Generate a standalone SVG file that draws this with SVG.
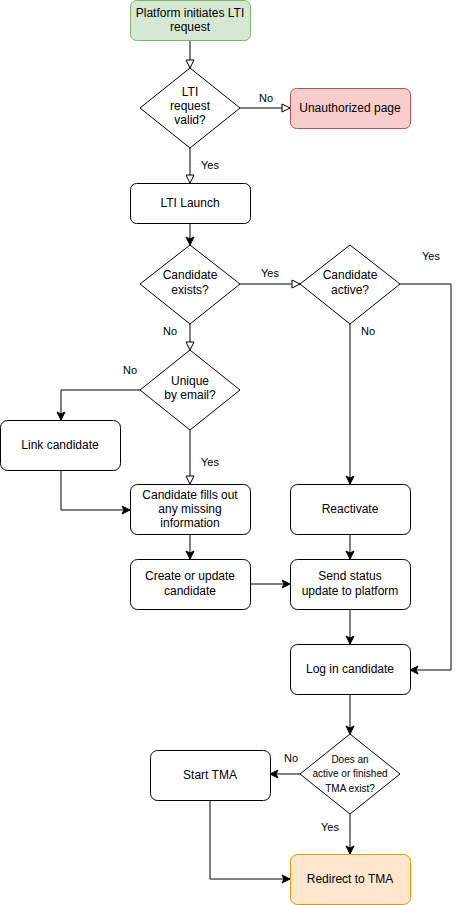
<svg xmlns="http://www.w3.org/2000/svg" width="459" height="905" viewBox="0 0 459 905">
<defs>
<style>
.n{fill:#fff;stroke:#000;stroke-width:1}
.t{font-family:"Liberation Sans",Arial,sans-serif;font-size:12px;fill:#000;text-anchor:middle}
.s{font-size:10px}
.l{font-family:"Liberation Sans",Arial,sans-serif;font-size:11px;fill:#000;text-anchor:middle}
.e{fill:none;stroke:#000;stroke-width:1}
.o{marker-end:url(#open)}
.c{marker-end:url(#cls)}
</style>
<marker id="open" viewBox="0 0 10 10" refX="9" refY="5" markerWidth="10" markerHeight="10" markerUnits="userSpaceOnUse" orient="auto">
<path d="M1,1 L9,5 L1,9 Z" fill="#fff" stroke="#000" stroke-width="1"/>
</marker>
<marker id="cls" viewBox="0 0 10 10" refX="9" refY="5" markerWidth="10" markerHeight="10" markerUnits="userSpaceOnUse" orient="auto">
<path d="M1,1 L9,5 L1,9 L3,5 Z" fill="#000" stroke="#000" stroke-width="1"/>
</marker>
</defs>
<rect width="459" height="905" fill="#fff"/>
<g id="connectors">
<path class="e o" d="M190,40 V68"/>
<path class="e o" d="M240,108 H290"/>
<path class="e o" d="M190,148 V183"/>
<path class="e c" d="M190,223 V245"/>
<path class="e o" d="M240,284 H300"/>
<path class="e o" d="M190,324 V350"/>
<path class="e c" d="M400,284 H451 V670 H410"/>
<path class="e c" d="M350,324 V484"/>
<path class="e c" d="M140,390 H61 V420"/>
<path class="e o" d="M190,430 V484"/>
<path class="e c" d="M61,470 V510 H130"/>
<path class="e c" d="M190,534 V559"/>
<path class="e c" d="M350,534 V559"/>
<path class="e c" d="M250,584 H290"/>
<path class="e c" d="M350,609 V644"/>
<path class="e c" d="M350,694 V734"/>
<path class="e c" d="M300,774 H270"/>
<path class="e c" d="M350,814 V854"/>
<path class="e c" d="M210,800 V879 H290"/>
<text class="l" x="266" y="102">No</text>
<text class="l" x="210" y="169">Yes</text>
<text class="l" x="270" y="277">Yes</text>
<text class="l" x="431" y="260">Yes</text>
<text class="l" x="170" y="335">No</text>
<text class="l" x="368" y="335">No</text>
<text class="l" x="130" y="374">No</text>
<text class="l" x="210" y="466">Yes</text>
<text class="l" x="291" y="762">No</text>
<text class="l" x="330" y="831">Yes</text>
</g>
<g id="platform">
<rect x="130.5" y="0.5" width="120" height="40" rx="6" fill="#d5e8d4" stroke="#82b366"/>
<text class="t" x="190" y="17">Platform initiates LTI</text>
<text class="t" x="190" y="31">request</text>
</g>
<g id="valid">
<path class="n" d="M190,68 L240,108 L190,148 L140,108 Z"/>
<text class="t" x="190" y="96">LTI</text>
<text class="t" x="190" y="110">request</text>
<text class="t" x="190" y="124">valid?</text>
</g>
<g id="unauthorized">
<rect x="290.5" y="88.5" width="120" height="40" rx="6" fill="#f8cecc" stroke="#b85450"/>
<text class="t" x="350" y="112">Unauthorized page</text>
</g>
<g id="launch">
<rect class="n" x="130.5" y="183.5" width="120" height="40" rx="6"/>
<text class="t" x="190" y="207">LTI Launch</text>
</g>
<g id="exists">
<path class="n" d="M190,245 L240,284 L190,324 L140,284 Z"/>
<text class="t" x="190" y="279">Candidate</text>
<text class="t" x="190" y="294">exists?</text>
</g>
<g id="active">
<path class="n" d="M350,245 L400,284 L350,324 L300,284 Z"/>
<text class="t" x="350" y="279">Candidate</text>
<text class="t" x="350" y="294">active?</text>
</g>
<g id="unique">
<path class="n" d="M190,350 L240,390 L190,430 L140,390 Z"/>
<text class="t" x="190" y="385">Unique</text>
<text class="t" x="190" y="399">by email?</text>
</g>
<g id="link">
<rect class="n" x="0.5" y="420.5" width="120" height="50" rx="7"/>
<text class="t" x="60" y="449">Link candidate</text>
</g>
<g id="fills">
<rect class="n" x="130.5" y="484.5" width="120" height="50" rx="7"/>
<text class="t" x="190" y="499">Candidate fills out</text>
<text class="t" x="190" y="513">any missing</text>
<text class="t" x="190" y="527">information</text>
</g>
<g id="reactivate">
<rect class="n" x="290.5" y="484.5" width="120" height="50" rx="7"/>
<text class="t" x="350" y="513">Reactivate</text>
</g>
<g id="create">
<rect class="n" x="130.5" y="559.5" width="120" height="50" rx="7"/>
<text class="t" x="190" y="580">Create or update</text>
<text class="t" x="190" y="595">candidate</text>
</g>
<g id="send">
<rect class="n" x="290.5" y="559.5" width="120" height="50" rx="7"/>
<text class="t" x="350" y="580">Send status</text>
<text class="t" x="350" y="595">update to platform</text>
</g>
<g id="login">
<rect class="n" x="290.5" y="644.5" width="120" height="50" rx="7"/>
<text class="t" x="350" y="673">Log in candidate</text>
</g>
<g id="tma-exists">
<path class="n" d="M350,734 L400,774 L350,814 L300,774 Z"/>
<text class="t s" x="350" y="763">Does an</text>
<text class="t s" x="350" y="777">active or finished</text>
<text class="t s" x="350" y="792">TMA exist?</text>
</g>
<g id="start">
<rect class="n" x="150.5" y="750.5" width="120" height="50" rx="7"/>
<text class="t" x="210" y="779">Start TMA</text>
</g>
<g id="redirect">
<rect x="290.5" y="854.5" width="120" height="50" rx="7" fill="#ffe6cc" stroke="#d79b00"/>
<text class="t" x="350" y="883">Redirect to TMA</text>
</g>
</svg>
